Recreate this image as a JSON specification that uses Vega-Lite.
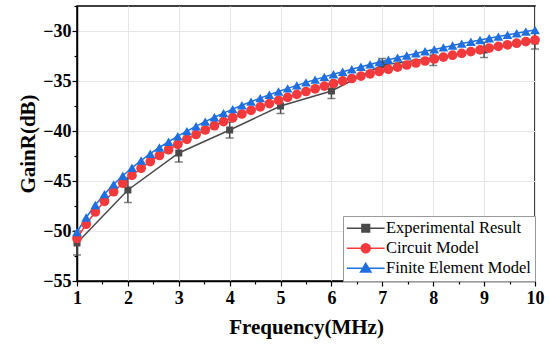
{
  "$schema": "https://vega.github.io/schema/vega-lite/v6.json",
  "width": 458,
  "height": 275,
  "autosize": {"type": "none"},
  "padding": {"left": 77, "top": 6, "right": 15, "bottom": 66},
  "background": "white",
  "config": {
    "view": {"stroke": "black", "strokeWidth": 1.5},
    "font": "Liberation Serif",
    "axis": {
      "domainColor": "black",
      "domainWidth": 1.5,
      "tickColor": "black",
      "tickWidth": 1.2,
      "gridColor": "#e6e6e6",
      "gridWidth": 1,
      "labelFont": "Liberation Serif",
      "labelFontWeight": "bold",
      "labelFontSize": 18,
      "labelColor": "black",
      "titleFont": "Liberation Serif",
      "titleFontWeight": "bold",
      "titleFontSize": 21,
      "titleColor": "black"
    },
    "legend": {
      "title": null,
      "orient": "bottom-right",
      "offset": 0,
      "padding": 4,
      "strokeColor": "#999999",
      "fillColor": "white",
      "labelFont": "Liberation Serif",
      "labelFontSize": 16.5,
      "labelColor": "black",
      "symbolSize": 81,
      "symbolOffset": 10.5,
      "labelOffset": 12,
      "rowPadding": 3,
      "symbolStrokeWidth": 1.5,
      "symbolOpacity": 1,
      "labelLimit": 220
    }
  },
  "datasets": {
    "gain": [
      {"series": "Experimental Result", "f": 1, "gain": -51.2, "err": 1.2},
      {"series": "Experimental Result", "f": 2, "gain": -45.9, "err": 1.25},
      {"series": "Experimental Result", "f": 3, "gain": -42.2, "err": 0.9},
      {"series": "Experimental Result", "f": 4, "gain": -39.9, "err": 0.8},
      {"series": "Experimental Result", "f": 5, "gain": -37.5, "err": 0.75},
      {"series": "Experimental Result", "f": 6, "gain": -36.0, "err": 0.75},
      {"series": "Experimental Result", "f": 7, "gain": -33.4, "err": 0.65},
      {"series": "Experimental Result", "f": 8, "gain": -32.7, "err": 0.75},
      {"series": "Experimental Result", "f": 9, "gain": -31.9, "err": 0.75},
      {"series": "Experimental Result", "f": 10, "gain": -31.0, "err": 0.8},
      {"series": "Circuit Model", "f": 1.00, "gain": -50.75},
      {"series": "Circuit Model", "f": 1.18, "gain": -49.32},
      {"series": "Circuit Model", "f": 1.36, "gain": -48.10},
      {"series": "Circuit Model", "f": 1.54, "gain": -47.03},
      {"series": "Circuit Model", "f": 1.72, "gain": -46.07},
      {"series": "Circuit Model", "f": 1.90, "gain": -45.22},
      {"series": "Circuit Model", "f": 2.08, "gain": -44.44},
      {"series": "Circuit Model", "f": 2.26, "gain": -43.72},
      {"series": "Circuit Model", "f": 2.44, "gain": -43.06},
      {"series": "Circuit Model", "f": 2.62, "gain": -42.45},
      {"series": "Circuit Model", "f": 2.80, "gain": -41.87},
      {"series": "Circuit Model", "f": 2.98, "gain": -41.34},
      {"series": "Circuit Model", "f": 3.16, "gain": -40.83},
      {"series": "Circuit Model", "f": 3.34, "gain": -40.35},
      {"series": "Circuit Model", "f": 3.52, "gain": -39.90},
      {"series": "Circuit Model", "f": 3.70, "gain": -39.47},
      {"series": "Circuit Model", "f": 3.88, "gain": -39.06},
      {"series": "Circuit Model", "f": 4.06, "gain": -38.67},
      {"series": "Circuit Model", "f": 4.24, "gain": -38.30},
      {"series": "Circuit Model", "f": 4.42, "gain": -37.94},
      {"series": "Circuit Model", "f": 4.60, "gain": -37.59},
      {"series": "Circuit Model", "f": 4.78, "gain": -37.26},
      {"series": "Circuit Model", "f": 4.96, "gain": -36.94},
      {"series": "Circuit Model", "f": 5.14, "gain": -36.64},
      {"series": "Circuit Model", "f": 5.32, "gain": -36.34},
      {"series": "Circuit Model", "f": 5.50, "gain": -36.05},
      {"series": "Circuit Model", "f": 5.68, "gain": -35.78},
      {"series": "Circuit Model", "f": 5.86, "gain": -35.51},
      {"series": "Circuit Model", "f": 6.04, "gain": -35.25},
      {"series": "Circuit Model", "f": 6.22, "gain": -34.99},
      {"series": "Circuit Model", "f": 6.40, "gain": -34.75},
      {"series": "Circuit Model", "f": 6.58, "gain": -34.51},
      {"series": "Circuit Model", "f": 6.76, "gain": -34.28},
      {"series": "Circuit Model", "f": 6.94, "gain": -34.05},
      {"series": "Circuit Model", "f": 7.12, "gain": -33.83},
      {"series": "Circuit Model", "f": 7.30, "gain": -33.61},
      {"series": "Circuit Model", "f": 7.48, "gain": -33.40},
      {"series": "Circuit Model", "f": 7.66, "gain": -33.20},
      {"series": "Circuit Model", "f": 7.84, "gain": -33.00},
      {"series": "Circuit Model", "f": 8.02, "gain": -32.80},
      {"series": "Circuit Model", "f": 8.20, "gain": -32.61},
      {"series": "Circuit Model", "f": 8.38, "gain": -32.42},
      {"series": "Circuit Model", "f": 8.56, "gain": -32.24},
      {"series": "Circuit Model", "f": 8.74, "gain": -32.06},
      {"series": "Circuit Model", "f": 8.92, "gain": -31.89},
      {"series": "Circuit Model", "f": 9.10, "gain": -31.71},
      {"series": "Circuit Model", "f": 9.28, "gain": -31.54},
      {"series": "Circuit Model", "f": 9.46, "gain": -31.38},
      {"series": "Circuit Model", "f": 9.64, "gain": -31.22},
      {"series": "Circuit Model", "f": 9.82, "gain": -31.06},
      {"series": "Circuit Model", "f": 10.00, "gain": -30.90},
      {"series": "Finite Element Model", "f": 1.00, "gain": -50.10},
      {"series": "Finite Element Model", "f": 1.18, "gain": -48.65},
      {"series": "Finite Element Model", "f": 1.36, "gain": -47.40},
      {"series": "Finite Element Model", "f": 1.54, "gain": -46.31},
      {"series": "Finite Element Model", "f": 1.72, "gain": -45.34},
      {"series": "Finite Element Model", "f": 1.90, "gain": -44.47},
      {"series": "Finite Element Model", "f": 2.08, "gain": -43.68},
      {"series": "Finite Element Model", "f": 2.26, "gain": -42.95},
      {"series": "Finite Element Model", "f": 2.44, "gain": -42.27},
      {"series": "Finite Element Model", "f": 2.62, "gain": -41.65},
      {"series": "Finite Element Model", "f": 2.80, "gain": -41.07},
      {"series": "Finite Element Model", "f": 2.98, "gain": -40.52},
      {"series": "Finite Element Model", "f": 3.16, "gain": -40.01},
      {"series": "Finite Element Model", "f": 3.34, "gain": -39.52},
      {"series": "Finite Element Model", "f": 3.52, "gain": -39.06},
      {"series": "Finite Element Model", "f": 3.70, "gain": -38.62},
      {"series": "Finite Element Model", "f": 3.88, "gain": -38.21},
      {"series": "Finite Element Model", "f": 4.06, "gain": -37.81},
      {"series": "Finite Element Model", "f": 4.24, "gain": -37.43},
      {"series": "Finite Element Model", "f": 4.42, "gain": -37.06},
      {"series": "Finite Element Model", "f": 4.60, "gain": -36.71},
      {"series": "Finite Element Model", "f": 4.78, "gain": -36.38},
      {"series": "Finite Element Model", "f": 4.96, "gain": -36.05},
      {"series": "Finite Element Model", "f": 5.14, "gain": -35.74},
      {"series": "Finite Element Model", "f": 5.32, "gain": -35.44},
      {"series": "Finite Element Model", "f": 5.50, "gain": -35.14},
      {"series": "Finite Element Model", "f": 5.68, "gain": -34.86},
      {"series": "Finite Element Model", "f": 5.86, "gain": -34.59},
      {"series": "Finite Element Model", "f": 6.04, "gain": -34.32},
      {"series": "Finite Element Model", "f": 6.22, "gain": -34.07},
      {"series": "Finite Element Model", "f": 6.40, "gain": -33.82},
      {"series": "Finite Element Model", "f": 6.58, "gain": -33.57},
      {"series": "Finite Element Model", "f": 6.76, "gain": -33.34},
      {"series": "Finite Element Model", "f": 6.94, "gain": -33.10},
      {"series": "Finite Element Model", "f": 7.12, "gain": -32.88},
      {"series": "Finite Element Model", "f": 7.30, "gain": -32.66},
      {"series": "Finite Element Model", "f": 7.48, "gain": -32.45},
      {"series": "Finite Element Model", "f": 7.66, "gain": -32.24},
      {"series": "Finite Element Model", "f": 7.84, "gain": -32.03},
      {"series": "Finite Element Model", "f": 8.02, "gain": -31.84},
      {"series": "Finite Element Model", "f": 8.20, "gain": -31.64},
      {"series": "Finite Element Model", "f": 8.38, "gain": -31.45},
      {"series": "Finite Element Model", "f": 8.56, "gain": -31.26},
      {"series": "Finite Element Model", "f": 8.74, "gain": -31.08},
      {"series": "Finite Element Model", "f": 8.92, "gain": -30.90},
      {"series": "Finite Element Model", "f": 9.10, "gain": -30.73},
      {"series": "Finite Element Model", "f": 9.28, "gain": -30.56},
      {"series": "Finite Element Model", "f": 9.46, "gain": -30.39},
      {"series": "Finite Element Model", "f": 9.64, "gain": -30.22},
      {"series": "Finite Element Model", "f": 9.82, "gain": -30.06},
      {"series": "Finite Element Model", "f": 10.00, "gain": -29.90}
    ]
  },
  "data": {"name": "gain"},
  "encoding": {
    "x": {
      "field": "f",
      "type": "quantitative",
      "scale": {"domain": [1, 10], "nice": false, "zero": false},
      "axis": {
        "title": "Frequency(MHz)",
        "values": [1, 1.5, 2, 2.5, 3, 3.5, 4, 4.5, 5, 5.5, 6, 6.5, 7, 7.5, 8, 8.5, 9, 9.5, 10],
        "labelExpr": "datum.value % 1 === 0 ? format(datum.value, 'd') : ''",
        "labelFont": "Liberation Serif",
        "labelFontWeight": "bold",
        "labelFontSize": 18,
        "tickSize": {"condition": {"test": "datum.value % 1 === 0", "value": 5}, "value": 3},
        "gridOpacity": {"condition": {"test": "datum.value % 1 === 0", "value": 1}, "value": 0},
        "labelPadding": 3,
        "titlePadding": 9,
        "labelFlush": false
      }
    },
    "y": {
      "field": "gain",
      "type": "quantitative",
      "scale": {"domain": [-55, -27.5], "nice": false, "zero": false},
      "axis": {
        "title": "GainR(dB)",
        "values": [-55, -52.5, -50, -47.5, -45, -42.5, -40, -37.5, -35, -32.5, -30, -27.5],
        "labelExpr": "datum.value % 5 === 0 ? '−' + format(abs(datum.value), 'd') : ''",
        "labelFont": "Liberation Serif",
        "labelFontWeight": "bold",
        "labelFontSize": 18,
        "tickSize": {"condition": {"test": "datum.value % 5 === 0", "value": 5}, "value": 3},
        "gridOpacity": {"condition": {"test": "datum.value % 5 === 0", "value": 1}, "value": 0},
        "labelPadding": 1,
        "titlePadding": 4,
        "labelFlush": false
      }
    }
  },
  "layer": [
    {
      "mark": {"type": "line", "strokeWidth": 1.5},
      "encoding": {
        "color": {
          "field": "series",
          "type": "nominal",
          "scale": {
            "domain": ["Experimental Result", "Circuit Model", "Finite Element Model"],
            "range": ["#4a4a4a", "#f23a3d", "#1f6fe0"]
          }
        }
      }
    },
    {
      "transform": [{"filter": "datum.series === 'Experimental Result'"}],
      "mark": {
        "type": "errorbar",
        "color": "#4a4a4a",
        "ticks": {"size": 8, "thickness": 1.5},
        "rule": {"strokeWidth": 1.5}
      },
      "encoding": {
        "yError": {"field": "err"}
      }
    },
    {
      "transform": [{"filter": "datum.series === 'Experimental Result'"}],
      "mark": {"type": "point", "shape": "square", "filled": true, "opacity": 1, "size": 49, "color": "#4a4a4a"}
    },
    {
      "transform": [{"filter": "datum.series === 'Circuit Model'"}],
      "mark": {"type": "point", "shape": "circle", "filled": true, "opacity": 1, "size": 95, "color": "#f23a3d"}
    },
    {
      "transform": [{"filter": "datum.series === 'Finite Element Model'"}],
      "mark": {"type": "point", "shape": "triangle-up", "filled": true, "opacity": 1, "size": 95, "color": "#1f6fe0"}
    },
    {
      "mark": {"type": "point", "filled": true, "opacity": 0},
      "encoding": {
        "color": {
          "field": "series",
          "type": "nominal",
          "scale": {
            "domain": ["Experimental Result", "Circuit Model", "Finite Element Model"],
            "range": ["#4a4a4a", "#f23a3d", "#1f6fe0"]
          }
        },
        "stroke": {
          "field": "series",
          "type": "nominal",
          "scale": {
            "domain": ["Experimental Result", "Circuit Model", "Finite Element Model"],
            "range": ["#4a4a4a", "#f23a3d", "#1f6fe0"]
          }
        },
        "shape": {
          "field": "series",
          "type": "nominal",
          "scale": {
            "domain": ["Experimental Result", "Circuit Model", "Finite Element Model"],
            "range": [
              "M-4.2,0H4.2M-0.85,-0.85H0.85V0.85H-0.85Z",
              "M-4.2,0H4.2M-1,0A1,1 0 1,0 1,0A1,1 0 1,0 -1,0Z",
              "M-4.2,0H4.2M0,-1.1L1.15,0.85H-1.15Z"
            ]
          }
        }
      }
    }
  ]
}
